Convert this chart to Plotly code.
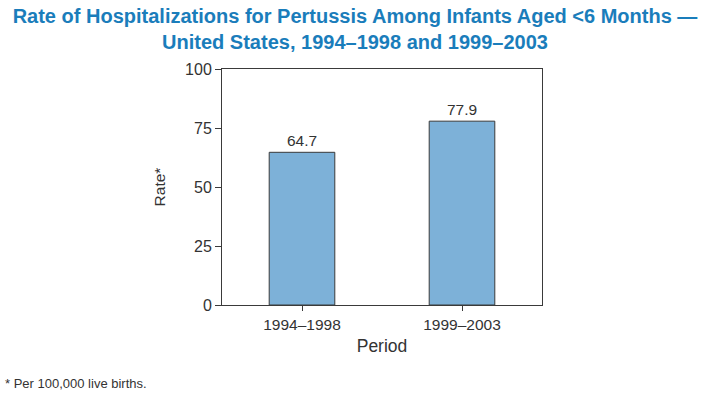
import plotly.graph_objects as go

categories = ["1994–1998", "1999–2003"]
rates = [64.7, 77.9]
y_ticks = [0, 25, 50, 75, 100]

fig = go.Figure()
fig.add_trace(go.Bar(
    x=categories, y=rates, width=0.41,
    marker=dict(color="#7db1d8", line=dict(color="#3a3a3a", width=1)),
    text=[f"{v:.1f}" for v in rates], textposition="outside",
    textfont=dict(size=15.5, color="#333333"), cliponaxis=False,
))

fig.update_layout(
    width=710, height=395,
    margin=dict(l=222, r=168, t=69, b=90),
    paper_bgcolor="white", plot_bgcolor="white",
    font=dict(family="Liberation Sans, Arial, sans-serif", color="#333333", size=14),
    showlegend=False,
    title=dict(
        text="Rate of Hospitalizations for Pertussis Among Infants Aged <6 Months —<br>United States, 1994–1998 and 1999–2003",
        x=0.5, xanchor="center", yref="container", y=0.942, yanchor="top",
        font=dict(family="Liberation Sans Narrow, Arial Narrow, Liberation Sans, sans-serif", size=20, color="#1a7dbb", weight="bold"),
    ),
    xaxis=dict(
        range=[-0.5, 1.5], showline=True, linecolor="#3a3a3a", linewidth=1, mirror=True,
        ticks="outside", ticklen=5, tickcolor="#3a3a3a",
        tickfont=dict(size=15.5, color="#333333"),
        title=dict(text="Period", font=dict(size=17.5, color="#333333"), standoff=8),
    ),
    yaxis=dict(
        range=[0, 100], tickvals=y_ticks, showline=True, linecolor="#3a3a3a", linewidth=1, mirror=True,
        ticks="outside", ticklen=6, tickcolor="#3a3a3a", showgrid=False, zeroline=False,
        tickfont=dict(size=16, color="#333333"),
        title=dict(text="Rate*", font=dict(size=15.5, color="#333333"), standoff=15),
    ),
)

fig.add_annotation(
    text="* Per 100,000 live births.", xref="paper", yref="paper",
    x=-219/320, y=-78/236, xanchor="left", yanchor="middle", showarrow=False,
    font=dict(size=13, color="#333333"),
)

fig.write_html("out.html", post_script="document.body.style.margin='0';",
               config={"displayModeBar": False})
